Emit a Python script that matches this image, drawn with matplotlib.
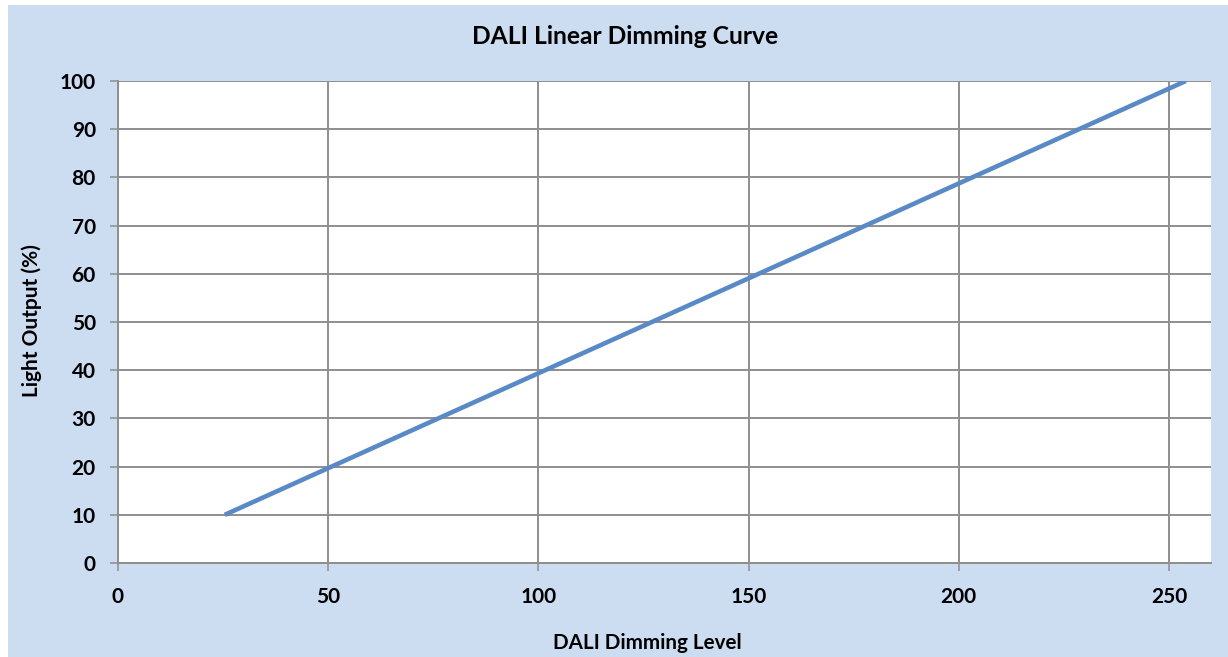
import matplotlib
matplotlib.use("Agg")
import matplotlib.pyplot as plt
from matplotlib.patches import Rectangle

# Data
dali_level = [25.4, 254]
light_output = [10, 100]
x_ticks = [0, 50, 100, 150, 200, 250]
y_ticks = [0, 10, 20, 30, 40, 50, 60, 70, 80, 90, 100]
title = "DALI Linear Dimming Curve"
x_label = "DALI Dimming Level"
y_label = "Light Output (%)"

plt.rcParams['font.family'] = ['Lato', 'DejaVu Sans']

W, H = 1228, 657
fig = plt.figure(figsize=(W / 100, H / 100), dpi=100, facecolor='white')
bg = '#CCDCF1'
fig.patches.append(Rectangle((8 / W, 0), 1 - 8 / W, 1 - 5 / H, transform=fig.transFigure,
                             facecolor=bg, edgecolor='none', zorder=-10))

ax = fig.add_axes([118 / W, (H - 563) / H, (1211 - 118) / W, (563 - 81) / H])
ax.set_zorder(5)
ax.set_facecolor('white')
grid_c = '#8E8E8E'
ax.plot(dali_level, light_output, color='#5A8AC6', linewidth=3.3, solid_capstyle='butt', zorder=3)
ax.set_xlim(0, 260)
ax.set_ylim(0, 100)
ax.set_xticks(x_ticks)
ax.set_yticks(y_ticks)
ax.grid(True, color=grid_c, linewidth=1.4)
ax.set_axisbelow(True)
for s in ['top', 'right']:
    ax.spines[s].set_visible(False)
for s in ['left', 'bottom']:
    ax.spines[s].set_color(grid_c)
    ax.spines[s].set_linewidth(1.4)
ax.tick_params(axis='both', direction='out', length=6, width=1.1, color=grid_c,
               labelsize=15)
for lab in ax.get_xticklabels() + ax.get_yticklabels():
    lab.set_fontweight('bold')
ax.tick_params(axis='x', pad=11)
ax.tick_params(axis='y', pad=10)

fig.text(0.509, (H - 36) / H, title, ha='center', va='center', fontsize=17.7, fontweight='bold')
fig.text(647.5 / W, (H - 643) / H, x_label, ha='center', va='center', fontsize=14.9, fontweight='bold')
fig.text(32 / W, (H - 321) / H, y_label, ha='center', va='center', rotation=90,
         fontsize=15, fontweight='bold')

fig.savefig('out.png', dpi=100, facecolor='white')
